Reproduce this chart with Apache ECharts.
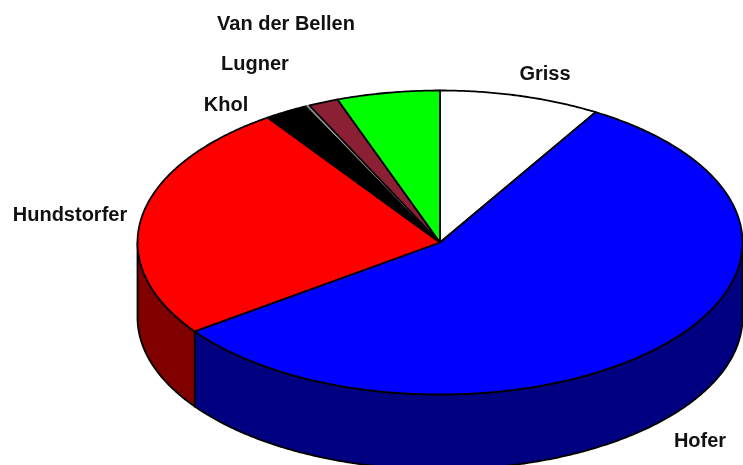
<!DOCTYPE html>
<html>
<head>
<meta charset="utf-8">
<style>html,body{margin:0;padding:0;background:#fff}#c{width:743px;height:465px}</style>
<script src="https://cdn.jsdelivr.net/npm/echarts@6/dist/echarts.min.js"></script>
</head>
<body>
<div id="c"></div>
<script>
const categories = ['Griss', 'Hofer', 'Hundstorfer', 'Khol', '', 'Lugner', 'Van der Bellen'];
const shares = [8.6, 56.45, 25.3, 2.39, 0.15, 1.61, 5.5];
const topColors = ['#ffffff', '#0000ff', '#ff0000', '#000000', '#999999', '#8b2035', '#00ff00'];
const sideColors = ['#808080', '#000080', '#800000', '#000000', '#4c4c4c', '#451019', '#008000'];

const view = { cx: 440, cy: 242.5, rx: 302.5, ry: 152, depth: 75 };
const labelAnchors = {
  'Griss': [545, 74], 'Hofer': [700, 441], 'Hundstorfer': [70, 215],
  'Khol': [226, 105], 'Lugner': [255, 64], 'Van der Bellen': [286, 24]
};

const total = shares.reduce((a, b) => a + b, 0);
const px = (deg, dy) => {
  const r = deg * Math.PI / 180;
  return [view.cx + view.rx * Math.sin(r), view.cy - view.ry * Math.cos(r) + (dy || 0)];
};
const arc = (from, to, dy) => {
  const pts = [];
  const n = Math.max(2, Math.ceil(Math.abs(to - from) * 2));
  for (let i = 0; i <= n; i++) pts.push(px(from + (to - from) * i / n, dy));
  return pts;
};

function renderItem(params, api) {
  const i = params.dataIndex;
  const before = shares.slice(0, i).reduce((a, b) => a + b, 0);
  const a0 = before / total * 360;
  const a1 = a0 + api.value(0) / total * 360;
  const children = [];
  const w0 = Math.max(a0, 90), w1 = Math.min(a1, 270);
  if (w1 > w0) {
    children.push({
      type: 'polygon',
      shape: { points: arc(w0, w1, 0).concat(arc(w1, w0, view.depth)) },
      style: { fill: sideColors[i], stroke: '#000', lineWidth: 1.8, lineJoin: 'round' }
    });
  }
  const thin = categories[i] === '';
  children.push({
    type: 'polygon',
    shape: { points: [[view.cx, view.cy]].concat(arc(a0, a1, 0)) },
    style: { fill: topColors[i], stroke: thin ? topColors[i] : '#000', lineWidth: thin ? 1 : 1.8, lineJoin: 'round' }
  });
  const anchor = labelAnchors[categories[i]];
  if (anchor) {
    children.push({
      type: 'text',
      z2: 10,
      style: {
        text: categories[i], x: anchor[0], y: anchor[1],
        align: 'center', verticalAlign: 'middle',
        font: 'bold 20px "Liberation Sans", Arial, sans-serif', fill: '#111'
      }
    });
  }
  return { type: 'group', children };
}

const chart = echarts.init(document.getElementById('c'), null, { renderer: 'canvas' });
chart.setOption({
  animation: false,
  backgroundColor: '#ffffff',
  series: [{
    type: 'custom',
    coordinateSystem: 'none',
    renderItem,
    clip: false,
    silent: true,
    data: shares.map((v, i) => ({ name: categories[i], value: [v] }))
  }]
});
</script>
</body>
</html>
